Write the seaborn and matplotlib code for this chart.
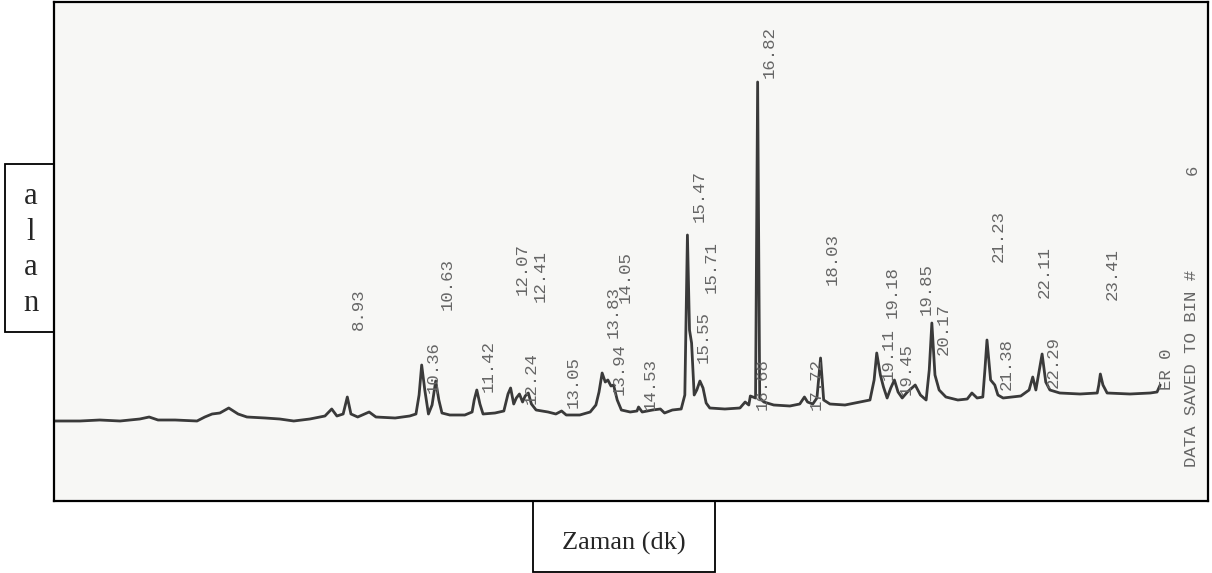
import pandas as pd
import seaborn as sns
import matplotlib.pyplot as plt
from matplotlib.patches import Rectangle

# chromatogram trace: retention time (min) and detector signal (arb. units)
time_min = [3.29, 3.79, 4.17, 4.56, 4.94, 5.12, 5.29, 5.62, 6.04, 6.19, 6.33, 6.48, 6.65, 6.83,
            7.00, 7.35, 7.63, 7.90, 8.21, 8.50, 8.63, 8.73, 8.85, 8.93, 9.00, 9.13, 9.35, 9.48,
            9.85, 10.13, 10.25, 10.31, 10.36, 10.42, 10.49, 10.56, 10.63, 10.69, 10.75, 10.90,
            11.19, 11.33, 11.37, 11.42, 11.48, 11.54, 11.77, 11.94, 12.02, 12.07, 12.13, 12.18,
            12.24, 12.30, 12.35, 12.41, 12.47, 12.56, 12.79, 12.94, 13.05, 13.14, 13.40, 13.60,
            13.71, 13.77, 13.83, 13.89, 13.94, 14.00, 14.05, 14.12, 14.20, 14.37, 14.50, 14.53,
            14.60, 14.80, 14.95, 15.03, 15.18, 15.35, 15.42, 15.47, 15.51, 15.55, 15.60, 15.65,
            15.71, 15.77, 15.83, 15.90, 16.19, 16.48, 16.58, 16.65, 16.68, 16.78, 16.82, 16.86,
            16.94, 17.13, 17.44, 17.63, 17.72, 17.78, 17.88, 17.96, 18.03, 18.09, 18.21, 18.50,
            18.79, 18.98, 19.06, 19.11, 19.18, 19.24, 19.31, 19.38, 19.45, 19.52, 19.60, 19.70,
            19.85, 19.95, 20.06, 20.12, 20.17, 20.23, 20.31, 20.44, 20.67, 20.85, 20.94, 21.04,
            21.15, 21.19, 21.23, 21.30, 21.38, 21.44, 21.54, 21.88, 22.04, 22.11, 22.17, 22.22,
            22.29, 22.36, 22.44, 22.63, 23.02, 23.35, 23.38, 23.41, 23.46, 23.54, 23.98, 24.37,
            24.50, 24.56]
signal = [80, 80, 81, 80, 82, 84, 81, 81, 80, 84, 87, 88, 93, 87,
          84, 83, 82, 80, 82, 85, 92, 85, 87, 104, 87, 84, 89, 84,
          83, 85, 87, 106, 136, 111, 87, 96, 120, 101, 88, 86,
          86, 89, 101, 111, 97, 87, 88, 90, 107, 113, 97, 103,
          107, 99, 105, 108, 97, 91, 89, 87, 90, 86, 86, 89,
          96, 109, 128, 119, 121, 115, 116, 101, 91, 89, 90, 94,
          89, 91, 92, 88, 91, 92, 106, 266, 171, 158, 106, 111,
          120, 113, 98, 93, 92, 93, 99, 96, 105, 103, 419, 103,
          99, 96, 95, 97, 104, 99, 97, 103, 143, 101, 97, 96,
          99, 101, 121, 148, 126, 114, 103, 113, 121, 109, 103, 109,
          116, 106, 101, 131, 178, 126, 111, 104, 101, 102, 108, 103,
          104, 131, 161, 121, 116, 106, 103, 105, 111, 124, 111, 126,
          147, 119, 111, 108, 107, 108, 116, 127, 116, 108, 107, 108,
          109, 116]

# printed retention-time labels and the height where each one starts
peak_labels = ["8.93", "10.36", "10.63", "11.42", "12.07", "12.24", "12.41", "13.05", "13.83",
               "13.94", "14.05", "14.53", "15.47", "15.55", "15.71", "16.68", "16.82", "17.72",
               "18.03", "19.11", "19.18", "19.45", "19.85", "20.17", "21.23", "21.38", "22.11",
               "22.29", "23.41"]
label_base = [171, 108, 191, 109, 206, 97, 199, 93, 163,
              106, 198, 91, 279, 138, 208, 91, 423, 91,
              216, 121, 183, 106, 186, 146, 239, 111, 203,
              113, 201]

df = pd.DataFrame({"time": time_min, "signal": signal})

sns.set_theme(style="white")
plt.rcParams["font.family"] = ["DejaVu Sans"]

W, H = 1212, 573
fig = plt.figure(figsize=(W / 100, H / 100), dpi=100)
fig.patch.set_facecolor("white")
ax = fig.add_axes([54 / W, 72 / H, 1154 / W, 499 / H])
ax.set_facecolor("#f7f7f5")

sns.lineplot(data=df, x="time", y="signal", ax=ax, color="#3a3a3a",
             linewidth=2.0, estimator=None, sort=False)

ax.set_xlim(3.29, 25.48)
ax.set_ylim(0, 499)
ax.set_xticks([])
ax.set_yticks([])
ax.set_xlabel("")
ax.set_ylabel("")
for side in ax.spines.values():
    side.set_color("black")
    side.set_linewidth(1.6)

mono = dict(rotation=90, ha="center", va="bottom", family="Liberation Mono",
            fontsize=12.5, color="#666666")
for lab, base in zip(peak_labels, label_base):
    ax.text(float(lab) + 0.22, base, lab, **mono)
ax.text(24.69, 111, "ER 0", **mono)
ax.text(25.17, 34, "DATA SAVED TO BIN #", **mono)
ax.text(25.17, 326, "6", **mono)

# boxed axis captions from the document
fig.add_artist(Rectangle((5 / W, (H - 332) / H), 49 / W, 168 / H, transform=fig.transFigure,
                         fill=False, ec="black", lw=1.3))
fig.text(31 / W, 1 - 250 / H, "a\nl\na\nn", ha="center", va="center",
         family="Liberation Serif", fontsize=22, linespacing=1.29)

fig.add_artist(Rectangle((533 / W, 1 / H), 182 / W, 71 / H, transform=fig.transFigure,
                         fill=False, ec="black", lw=1.3))
fig.text(624 / W, 1 - 543 / H, "Zaman (dk)", ha="center", va="center",
         family="Liberation Serif", fontsize=19)

fig.savefig("out.png", dpi=100)
